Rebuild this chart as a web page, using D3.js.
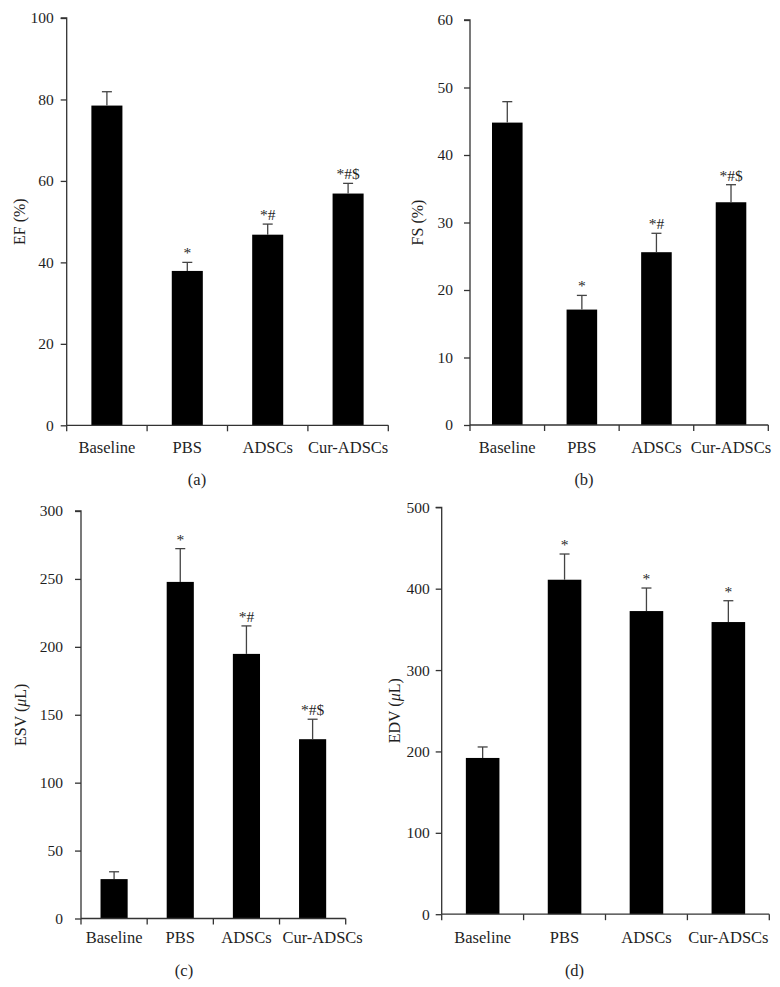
<!DOCTYPE html>
<html><head><meta charset="utf-8">
<script src="https://cdn.jsdelivr.net/npm/d3@7"></script>
<style>body{margin:0;background:#fff}svg{display:block}text{font-family:"Liberation Serif","Times New Roman",serif;fill:#1f1f1f}</style>
</head><body><svg id="c" width="780" height="987"></svg>
<script>
const categories = ["Baseline", "PBS", "ADSCs", "Cur-ADSCs"];

const efMean = [78.5, 37.9, 46.8, 56.9];
const efErr  = [3.4, 2.1, 2.6, 2.5];
const efSig  = ["", "*", "*#", "*#$"];
const efTicks = [0, 20, 40, 60, 80, 100];

const fsMean = [44.8, 17.1, 25.6, 33.0];
const fsErr  = [3.1, 2.1, 2.8, 2.6];
const fsSig  = ["", "*", "*#", "*#$"];
const fsTicks = [0, 10, 20, 30, 40, 50, 60];

const esvMean = [29, 247.8, 194.8, 132];
const esvErr  = [5.4, 24.5, 20.6, 14.7];
const esvSig  = ["", "*", "*#", "*#$"];
const esvTicks = [0, 50, 100, 150, 200, 250, 300];

const edvMean = [192, 411, 372.5, 359];
const edvErr  = [13.5, 31.6, 28.3, 26.2];
const edvSig  = ["", "*", "*", "*"];
const edvTicks = [0, 100, 200, 300, 400, 500];

const panels = [
  {mean: efMean, err: efErr, sig: efSig, ticks: efTicks, title: ["EF (%)"], label: "(a)",
   x0: 66.7, x1: 388.3, y0: 425.3, y1: 18, barFrac: 0.386, tickPad: 7, xLab: 22, lastShift: 0, titleX: 19, labX: 197, labY: 479},
  {mean: fsMean, err: fsErr, sig: fsSig, ticks: fsTicks, title: ["FS (%)"], label: "(b)",
   x0: 470, x1: 768.3, y0: 425, y1: 20, barFrac: 0.41, tickPad: 11, xLab: 22, lastShift: 0, titleX: 417, labX: 584, labY: 479},
  {mean: esvMean, err: esvErr, sig: esvSig, ticks: esvTicks, title: ["ESV (", "μ", "L)"], label: "(c)",
   x0: 81, x1: 345.7, y0: 918.5, y1: 511, barFrac: 0.41, tickPad: 12, xLab: 19, lastShift: 10, titleX: 20, labX: 184, labY: 970.5},
  {mean: edvMean, err: edvErr, sig: edvSig, ticks: edvTicks, title: ["EDV (", "μ", "L)"], label: "(d)",
   x0: 441.7, x1: 769.3, y0: 914.2, y1: 507.3, barFrac: 0.41, tickPad: 6, xLab: 23, lastShift: 0, titleX: 394, labX: 574.5, labY: 970.5}
];

const svg = d3.select("#c");

panels.forEach(p => {
  const g = svg.append("g");
  const x = d3.scaleBand().domain(categories).range([p.x0, p.x1]).padding(0);
  const y = d3.scaleLinear().domain([p.ticks[0], p.ticks[p.ticks.length - 1]]).range([p.y0, p.y1]);
  const bw = x.bandwidth();
  const barW = bw * p.barFrac;

  // bars
  g.selectAll("rect.bar").data(categories).join("rect")
    .attr("x", c => x(c) + (bw - barW) / 2)
    .attr("y", (c, i) => y(p.mean[i]))
    .attr("width", barW)
    .attr("height", (c, i) => y(0) - y(p.mean[i]))
    .attr("fill", "#000");

  // error bars
  categories.forEach((c, i) => {
    const cx = x(c) + bw / 2;
    const top = y(p.mean[i] + p.err[i]);
    g.append("line").attr("x1", cx).attr("x2", cx).attr("y1", y(p.mean[i])).attr("y2", top)
      .attr("stroke", "#444").attr("stroke-width", 1.3);
    g.append("line").attr("x1", cx - 5).attr("x2", cx + 5).attr("y1", top).attr("y2", top)
      .attr("stroke", "#444").attr("stroke-width", 1.3);
    if (p.sig[i]) {
      g.append("text").attr("x", cx).attr("y", top - 4).attr("text-anchor", "middle")
        .attr("fill", "#333").style("font-size", "15.5px").text(p.sig[i]);
    }
  });

  // y axis
  const ya = g.append("g").attr("transform", `translate(${p.x0},0)`)
    .call(d3.axisLeft(y).tickValues(p.ticks).tickSize(6).tickPadding(p.tickPad).tickFormat(d3.format("d")));
  ya.select(".domain").attr("stroke", "#333").attr("stroke-width", 1.3).attr("d", `M-6,${p.y1}H0V${p.y0}`);
  ya.selectAll(".tick line").attr("stroke", "#333").attr("stroke-width", 1.3);
  ya.selectAll(".tick text").style("font-size", "15.5px").style("font-family", "'Liberation Serif',serif").attr("fill", "#1f1f1f");

  // x axis line and ticks at band boundaries
  g.append("line").attr("x1", p.x0).attr("x2", p.x1).attr("y1", p.y0).attr("y2", p.y0)
    .attr("stroke", "#333").attr("stroke-width", 1.3);
  const bounds = categories.map(c => x(c)).concat([p.x1]);
  g.selectAll("line.xt").data(bounds).join("line").attr("class", "xt")
    .attr("x1", d => d).attr("x2", d => d).attr("y1", p.y0).attr("y2", p.y0 + 6)
    .attr("stroke", "#333").attr("stroke-width", 1.3);
  g.selectAll("text.xl").data(categories).join("text").attr("class", "xl")
    .attr("x", (c, i) => x(c) + bw / 2 + (i === categories.length - 1 ? p.lastShift : 0))
    .attr("y", p.y0 + p.xLab).attr("dy", "0.35em")
    .attr("text-anchor", "middle").style("font-size", "16.5px").text(c => c);

  // y title
  const t = g.append("text").attr("transform", `translate(${p.titleX},${(p.y0 + p.y1) / 2}) rotate(-90)`)
    .attr("text-anchor", "middle").attr("dy", "0.35em").style("font-size", "16px");
  p.title.forEach(s => {
    const ts = t.append("tspan").text(s);
    if (s === "μ") ts.style("font-style", "italic");
  });

  // panel label
  g.append("text").attr("x", p.labX).attr("y", p.labY).attr("dy", "0.35em")
    .attr("text-anchor", "middle").style("font-size", "16.5px").text(p.label);
});
</script></body></html>
